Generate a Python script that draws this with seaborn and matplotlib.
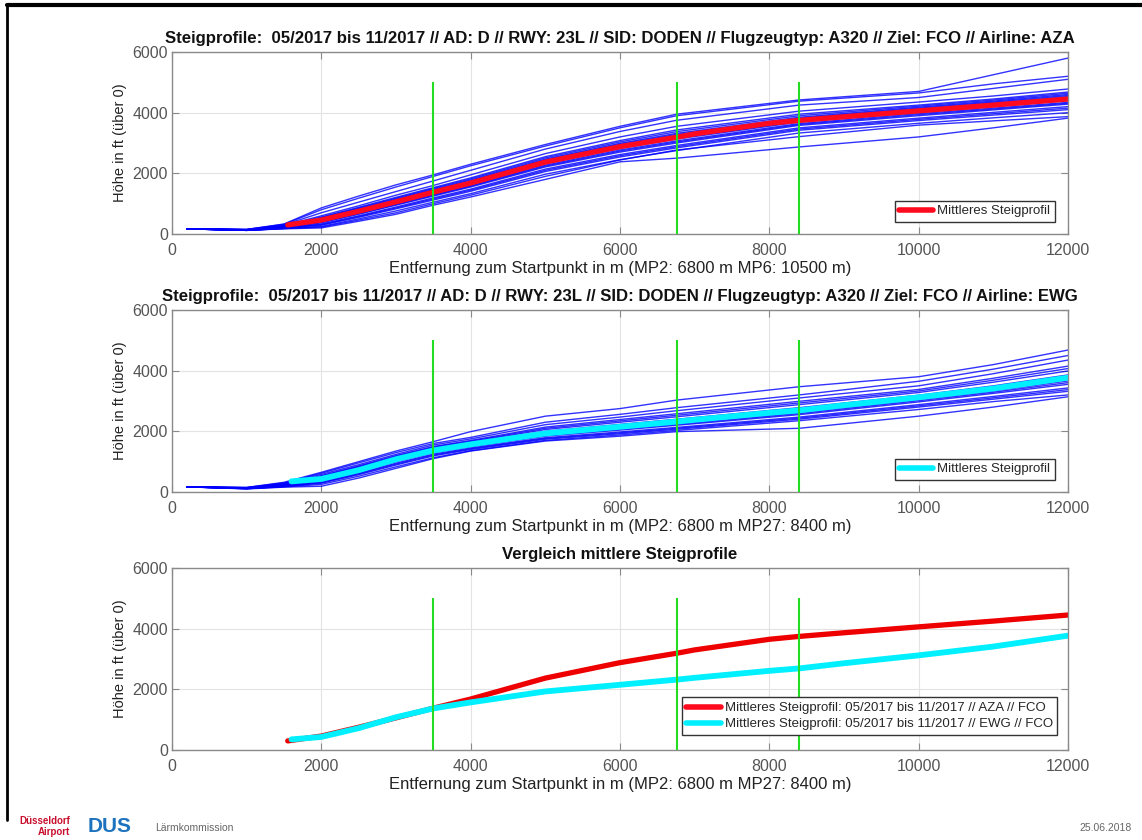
import numpy as np
import pandas as pd
import matplotlib.pyplot as plt
import matplotlib.lines as mlines
import seaborn as sns

knots = [200, 1000, 1500, 2000, 2500, 3000, 3500, 4000, 5000, 6000, 6760, 8400, 10000, 11000, 12000]

# AZA individual climb profiles (ft)
aza_profiles = [
    [170, 150, 330, 860, 1250, 1620, 1950, 2300, 2950, 3550, 3950, 4420, 4700, 5250, 5800],
    [170, 150, 320, 800, 1180, 1550, 1900, 2250, 2900, 3500, 3900, 4380, 4650, 4950, 5200],
    [170, 150, 300, 700, 1050, 1400, 1750, 2100, 2800, 3380, 3750, 4250, 4500, 4800, 5100],
    [170, 140, 280, 600, 930, 1280, 1600, 1950, 2650, 3200, 3550, 4050, 4350, 4550, 4780],
    [170, 140, 270, 560, 880, 1210, 1530, 1850, 2550, 3080, 3430, 3950, 4250, 4450, 4680],
    [170, 140, 265, 540, 855, 1180, 1500, 1815, 2510, 3035, 3375, 3900, 4215, 4415, 4640],
    [170, 140, 260, 520, 830, 1150, 1470, 1780, 2470, 2990, 3320, 3850, 4180, 4380, 4600],
    [170, 135, 255, 505, 810, 1125, 1445, 1750, 2440, 2960, 3285, 3820, 4150, 4350, 4565],
    [170, 130, 250, 490, 790, 1100, 1420, 1720, 2410, 2930, 3250, 3790, 4120, 4320, 4530],
    [170, 130, 240, 460, 760, 1060, 1380, 1680, 2370, 2880, 3190, 3740, 4070, 4260, 4460],
    [170, 130, 235, 445, 740, 1040, 1360, 1660, 2345, 2850, 3160, 3715, 4045, 4230, 4430],
    [170, 130, 230, 430, 720, 1020, 1340, 1640, 2320, 2820, 3130, 3690, 4020, 4200, 4400],
    [170, 130, 220, 400, 690, 990, 1300, 1600, 2270, 2770, 3070, 3640, 3970, 4150, 4340],
    [170, 125, 215, 385, 670, 970, 1275, 1575, 2240, 2735, 3035, 3610, 3935, 4120, 4310],
    [170, 120, 210, 370, 650, 950, 1250, 1550, 2210, 2700, 3000, 3580, 3900, 4090, 4280],
    [170, 120, 200, 330, 600, 890, 1190, 1480, 2140, 2620, 2920, 3500, 3820, 4010, 4200],
    [170, 120, 195, 310, 575, 860, 1155, 1445, 2100, 2580, 2880, 3460, 3780, 3965, 4150],
    [170, 120, 190, 290, 550, 830, 1120, 1410, 2060, 2540, 2840, 3420, 3740, 3920, 4100],
    [170, 120, 180, 250, 500, 760, 1050, 1330, 1970, 2450, 2750, 3330, 3650, 3830, 4000],
    [170, 120, 180, 230, 460, 700, 1000, 1280, 1900, 2440, 2770, 3210, 3590, 3730, 3870],
    [170, 120, 170, 200, 420, 650, 950, 1220, 1800, 2380, 2500, 2870, 3200, 3500, 3820],
]

# EWG individual climb profiles (ft)
ewg_profiles = [
    [170, 150, 320, 650, 1000, 1350, 1660, 1990, 2500, 2750, 3030, 3470, 3800, 4200, 4680],
    [170, 150, 300, 620, 960, 1300, 1600, 1800, 2300, 2560, 2780, 3200, 3650, 4050, 4500],
    [170, 140, 290, 580, 900, 1240, 1550, 1750, 2220, 2470, 2680, 3100, 3500, 3900, 4350],
    [170, 140, 270, 540, 860, 1200, 1500, 1700, 2140, 2390, 2580, 2990, 3380, 3750, 4150],
    [170, 135, 260, 520, 835, 1175, 1475, 1675, 2100, 2345, 2530, 2935, 3330, 3685, 4070],
    [170, 130, 250, 500, 810, 1150, 1450, 1650, 2060, 2300, 2480, 2880, 3280, 3620, 3990],
    [170, 130, 240, 460, 770, 1110, 1410, 1610, 2000, 2230, 2400, 2780, 3190, 3500, 3860],
    [170, 125, 230, 445, 750, 1090, 1390, 1590, 1970, 2195, 2365, 2740, 3155, 3460, 3815],
    [170, 120, 220, 430, 730, 1070, 1370, 1570, 1940, 2160, 2330, 2700, 3120, 3420, 3770],
    [170, 120, 210, 400, 700, 1040, 1340, 1530, 1890, 2100, 2260, 2620, 3050, 3330, 3660],
    [170, 120, 205, 385, 680, 1020, 1320, 1510, 1865, 2070, 2230, 2585, 3010, 3290, 3605],
    [170, 120, 200, 370, 660, 1000, 1300, 1490, 1840, 2040, 2200, 2550, 2970, 3250, 3550],
    [170, 110, 190, 330, 620, 950, 1250, 1450, 1790, 1980, 2130, 2470, 2880, 3150, 3430],
    [170, 115, 185, 310, 595, 920, 1220, 1425, 1765, 1950, 2100, 2435, 2840, 3105, 3375],
    [170, 110, 180, 290, 570, 890, 1190, 1400, 1740, 1920, 2070, 2400, 2800, 3060, 3320],
    [170, 110, 170, 250, 520, 830, 1130, 1360, 1700, 1880, 2030, 2350, 2720, 2980, 3200],
    [170, 100, 160, 190, 460, 780, 1100, 1350, 1680, 1840, 1990, 2100, 2500, 2800, 3140],
]

# mean climb profiles
aza_mean_x = [1550, 2000, 2500, 3000, 3500, 4000, 5000, 6000, 6760, 7000, 8000, 8400, 9000, 10000, 11000, 12000]
aza_mean_y = [300, 460, 750, 1060, 1380, 1680, 2370, 2880, 3190, 3300, 3650, 3745, 3865, 4060, 4250, 4450]
ewg_mean_x = [1600, 2000, 2500, 3000, 3500, 4000, 5000, 6000, 6760, 7000, 8000, 8400, 9000, 10000, 11000, 12000]
ewg_mean_y = [350, 430, 720, 1080, 1370, 1570, 1930, 2150, 2320, 2380, 2610, 2690, 2860, 3120, 3410, 3770]

# measuring points (green markers)
mp_x = [3500, 6760, 8400]
mp_top = 5000

titles = [
    "Steigprofile:  05/2017 bis 11/2017 // AD: D // RWY: 23L // SID: DODEN // Flugzeugtyp: A320 // Ziel: FCO // Airline: AZA",
    "Steigprofile:  05/2017 bis 11/2017 // AD: D // RWY: 23L // SID: DODEN // Flugzeugtyp: A320 // Ziel: FCO // Airline: EWG",
    "Vergleich mittlere Steigprofile",
]
xlabels = [
    "Entfernung zum Startpunkt in m (MP2: 6800 m MP6: 10500 m)",
    "Entfernung zum Startpunkt in m (MP2: 6800 m MP27: 8400 m)",
    "Entfernung zum Startpunkt in m (MP2: 6800 m MP27: 8400 m)",
]
ylabel = "Höhe in ft (über 0)"


def to_long(profiles):
    rows = []
    for i, prof in enumerate(profiles):
        for x, h in zip(knots, prof):
            rows.append({"flight": i, "x": x, "h": h})
    return pd.DataFrame(rows)


sns.set_style("white")
plt.rcParams["font.family"] = ["Liberation Sans", "DejaVu Sans"]

fig = plt.figure(figsize=(11.42, 8.4), dpi=100)
W, H = 1142, 840
left, width, height = 172 / W, 896 / W, 182 / H
bottoms = [1 - 234 / H, 1 - 492 / H, 1 - 750 / H]
axes = [fig.add_axes([left, b, width, height]) for b in bottoms]

grey = "#555555"
green = "#22dd22"
red = "#ff0a1e"
cyan = "#00f0ff"

for i, ax in enumerate(axes):
    ax.set_xlim(0, 12000)
    ax.set_ylim(0, 6000)
    ax.set_xticks(range(0, 12001, 2000))
    ax.set_yticks(range(0, 6001, 2000))
    ax.grid(True, color="#e3e3e3", lw=0.8)
    ax.set_axisbelow(True)
    for s in ax.spines.values():
        s.set_color("#8a8a8a")
        s.set_linewidth(1.0)
    ax.tick_params(direction="in", length=5, colors="#8a8a8a", labelcolor=grey,
                   labelsize=11.5, top=True, right=True, bottom=True, left=True,
                   labeltop=False, labelright=False)
    ax.tick_params(axis="x", pad=6.5)
    ax.tick_params(axis="y", pad=3)
    ax.set_title(titles[i], fontsize=12.1, fontweight="bold", pad=6.5, color="#111111")
    ax.set_xlabel(xlabels[i], fontsize=12, color="#222222", labelpad=2)
    ax.set_ylabel(ylabel, fontsize=10.5, color="#222222", labelpad=4)

# panel 1: AZA
ax = axes[0]
sns.lineplot(data=to_long(aza_profiles), x="x", y="h", units="flight", estimator=None,
             color="#0000ff", lw=1.0, alpha=0.8, ax=ax)
sns.lineplot(x=aza_mean_x, y=aza_mean_y, color=red, lw=3.8, ax=ax)

# panel 2: EWG
ax = axes[1]
sns.lineplot(data=to_long(ewg_profiles), x="x", y="h", units="flight", estimator=None,
             color="#0000ff", lw=1.0, alpha=0.8, ax=ax)
sns.lineplot(x=ewg_mean_x, y=ewg_mean_y, color=cyan, lw=4.2, ax=ax)

# panel 3: comparison
ax = axes[2]
sns.lineplot(x=aza_mean_x, y=aza_mean_y, color="#ee0000", lw=3.8, ax=ax)
sns.lineplot(x=ewg_mean_x, y=ewg_mean_y, color=cyan, lw=4.2, ax=ax)

for ax in axes:
    ax.vlines(mp_x, 0, mp_top, color=green, lw=1.5, zorder=5)
    ax.set_xlim(0, 12000)
    ax.set_ylim(0, 6000)

leg_kw = dict(loc="lower right", fontsize=9.5, frameon=True, fancybox=False,
              edgecolor="#333333", framealpha=1, handlelength=2.6, handletextpad=0.3,
              borderpad=0.35, borderaxespad=0, bbox_to_anchor=(0.9855, 0.066))
h_red = mlines.Line2D([], [], color=red, lw=4)
h_cyan = mlines.Line2D([], [], color=cyan, lw=4)
axes[0].legend([h_red], ["Mittleres Steigprofil"], **leg_kw)
axes[1].legend([h_cyan], ["Mittleres Steigprofil"], **leg_kw)
axes[2].legend([h_red, h_cyan],
               ["Mittleres Steigprofil: 05/2017 bis 11/2017 // AZA // FCO",
                "Mittleres Steigprofil: 05/2017 bis 11/2017 // EWG // FCO"],
               loc="lower right", fontsize=9.5, frameon=True, fancybox=False,
               edgecolor="#333333", framealpha=1, handlelength=2.6, handletextpad=0.3,
               borderpad=0.35, labelspacing=0.3, borderaxespad=0,
               bbox_to_anchor=(0.988, 0.082))

# slide frame and footer
fig.add_artist(mlines.Line2D([7 / W, 1], [1 - 5 / H, 1 - 5 / H], color="black", lw=3))
fig.add_artist(mlines.Line2D([7 / W, 7 / W], [1 - 5 / H, 1 - 820 / H], color="black", lw=2))
fig.text(70 / W, 1 - 821 / H, "Düsseldorf", ha="right", va="center", fontsize=7,
         fontweight="bold", color="#c8102e")
fig.text(70 / W, 1 - 832 / H, "Airport", ha="right", va="center", fontsize=7,
         fontweight="bold", color="#c8102e")
fig.text(88 / W, 1 - 826 / H, "DUS", ha="left", va="center", fontsize=15,
         fontweight="bold", color="#1e73be")
fig.text(155 / W, 1 - 828 / H, "Lärmkommission", ha="left", va="center", fontsize=7.5,
         color="#666666")
fig.text(1132 / W, 1 - 828 / H, "25.06.2018", ha="right", va="center", fontsize=7.5,
         color="#666666")

fig.savefig("out.png", dpi=100)
